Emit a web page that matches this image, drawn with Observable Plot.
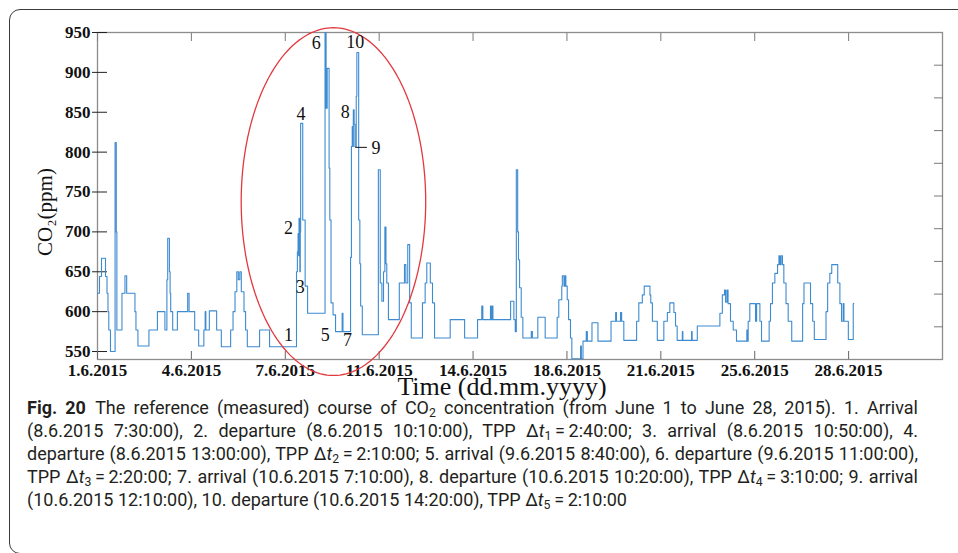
<!DOCTYPE html>
<html>
<head>
<meta charset="utf-8">
<script src="https://cdn.jsdelivr.net/npm/d3@7"></script>
<script src="https://cdn.jsdelivr.net/npm/@observablehq/plot@0.6"></script>
<style>
  html, body { margin: 0; padding: 0; background: #fff; }
  #fig { position: relative; width: 958px; height: 553px; overflow: hidden; background: #fff; }
  #box { position: absolute; left: 9px; top: 9px; width: 1000px; height: 543px;
         border: 1.5px solid #3a3a3a; border-radius: 11px; }
  #chart { position: absolute; left: 0; top: 0; }
  #caption { position: absolute; left: 27px; top: 396px; font-family: Roboto, sans-serif;
             font-size: 18px; line-height: 23.1px; color: #231f20; white-space: nowrap; }
  #caption .j { width: 891px; text-align: justify; text-align-last: justify; }
  #caption sub { font-size: 0.68em; line-height: 0; vertical-align: -0.28em; }
</style>
</head>
<body>
<div id="fig">
  <div id="box"></div>
  <div id="chart"></div>
  <div id="caption">
    <div class="j"><b>Fig. 20</b>&ensp;The reference (measured) course of CO<sub>2</sub> concentration (from June 1 to June 28, 2015). 1. Arrival</div>
    <div class="j">(8.6.2015 7:30:00), 2. departure (8.6.2015 10:10:00), TPP Δ<i>t</i><sub>1</sub>&thinsp;=&thinsp;2:40:00; 3. arrival (8.6.2015 10:50:00), 4.</div>
    <div class="j">departure (8.6.2015 13:00:00), TPP Δ<i>t</i><sub>2</sub>&thinsp;=&thinsp;2:10:00; 5. arrival (9.6.2015 8:40:00), 6. departure (9.6.2015 11:00:00),</div>
    <div class="j">TPP Δ<i>t</i><sub>3</sub>&thinsp;=&thinsp;2:20:00; 7. arrival (10.6.2015 7:10:00), 8. departure (10.6.2015 10:20:00), TPP Δ<i>t</i><sub>4</sub>&thinsp;=&thinsp;3:10:00; 9. arrival</div>
    <div>(10.6.2015 12:10:00), 10. departure (10.6.2015 14:20:00), TPP Δ<i>t</i><sub>5</sub>&thinsp;=&thinsp;2:10:00</div>
  </div>
</div>
<script>
// Measured CO2 course, June 2015: day of month (fractional) and concentration in ppm.
// Each point starts a new level of the stepped record.
const day = [
  1.000, 1.073, 1.147, 1.294, 1.349, 1.385, 1.415, 1.477, 1.646, 1.690, 1.712, 1.899, 2.009, 2.072,
  2.376, 2.413, 2.486, 2.890, 3.202, 3.477, 3.550, 3.580, 3.642, 3.668, 3.690, 3.763, 3.936, 4.314,
  4.365, 4.571, 4.717, 4.908, 4.956, 4.982, 5.110, 5.378, 5.550, 5.892, 5.980, 6.053, 6.119, 6.174,
  6.229, 6.284, 6.383, 6.442, 6.505, 6.956, 7.323,
  8.3125, 8.345, 8.370, 8.390, 8.405, 8.4236, 8.435, 8.4514, 8.465, 8.5417, 8.630, 8.720,
  9.3611, 9.400, 9.440, 9.510, 9.537, 9.581, 9.655, 9.747, 9.990, 10.020,
  10.2986, 10.330, 10.360, 10.380, 10.400, 10.4306, 10.460, 10.5069, 10.530, 10.5972, 10.640, 10.670, 10.730,
  11.320, 11.390, 11.450, 11.510, 11.560, 11.600, 11.630, 11.690, 12.090, 12.280, 12.330, 12.400,
  12.470, 12.530, 12.940, 13.040, 13.100, 13.230, 13.310, 13.385, 13.960, 14.490, 14.965, 15.120,
  15.160, 15.440, 15.470, 15.500, 15.530, 16.180, 16.300, 16.350, 16.390, 16.440, 16.470, 16.510,
  16.570, 16.630, 16.940, 16.980, 17.180, 17.450, 17.890, 17.950, 18.060, 18.080, 18.140, 18.180,
  18.210, 18.260, 18.310, 18.380, 18.430, 18.750, 18.780, 18.840, 18.960, 19.000, 19.170, 19.390,
  19.870, 20.040, 20.070, 20.220, 20.260, 20.340, 20.810, 20.890, 21.020, 21.090, 21.300, 21.330,
  21.390, 21.570, 21.810, 21.940, 22.030, 22.180, 22.240, 22.300, 22.490, 22.510, 22.830, 22.850,
  23.040, 23.870, 23.960, 24.040, 24.080, 24.130, 24.170, 24.260, 24.360, 24.480, 24.860, 24.890,
  24.910, 24.970, 25.180, 25.220, 25.340, 25.400, 25.680, 25.730, 25.800, 25.890, 25.990, 26.040,
  26.080, 26.120, 26.170, 26.220, 26.300, 26.380, 26.510, 26.910, 26.960, 27.200, 27.280, 27.340,
  27.770, 27.830, 27.910, 27.980, 28.200, 28.280, 28.340, 28.400, 28.430, 28.590, 28.770, 28.790
];
const ppm = [
  623, 644, 667, 644, 623, 600, 577, 550, 812, 700, 577, 623, 645, 623,
  600, 577, 557, 577, 600, 577, 640, 692, 650, 623, 600, 577, 600, 623,
  600, 577, 557, 577, 600, 577, 601, 577, 556, 577, 600, 625, 650, 640,
  650, 625, 600, 577, 556, 577, 556,
  650, 675, 698, 670, 717, 690, 650, 700, 836, 715, 632, 598,
  950, 855, 905, 780, 715, 611, 596, 575, 598, 575,
  668, 807, 832, 807, 853, 835, 807, 870, 925, 715, 660, 607, 571,
  778, 636, 613, 650, 706, 660, 636, 590, 636, 659, 636, 684,
  611, 567, 611, 636, 661, 636, 611, 567, 590, 567, 590, 607,
  590, 607, 590, 607, 590, 613, 590, 575, 778, 700, 665, 630,
  593, 567, 575, 567, 593, 567, 593, 615, 632, 645, 632, 645,
  632, 615, 590, 567, 541, 557, 541, 563, 575, 563, 586, 563,
  588, 599, 588, 599, 588, 564, 588, 611, 621, 632, 621, 611,
  588, 564, 588, 599, 611, 599, 582, 564, 575, 564, 575, 564,
  582, 598, 621, 627, 612, 627, 610, 588, 577, 563, 577, 563,
  588, 610, 588, 610, 588, 563, 588, 610, 636, 648, 659, 670,
  659, 670, 659, 636, 610, 588, 563, 610, 636, 610, 588, 565,
  600, 636, 648, 659, 636, 610, 588, 610, 588, 565, 610, 610
];

// Axis ticks
const tickDays = [1, 4.45, 7.9, 11.35, 14.8, 18.25, 21.7, 25.15, 28.6];
const tickLabels = ["1.6.2015", "4.6.2015", "7.6.2015", "11.6.2015", "14.6.2015",
                    "18.6.2015", "21.6.2015", "25.6.2015", "28.6.2015"];
const ppmTicks = [550, 600, 650, 700, 750, 800, 850, 900, 950];
const rightTicks = [581, 622, 663, 704, 745, 786, 827, 868, 909];

// Numbered arrival / departure events
const eventLabel = ["1", "2", "3", "4", "5", "6", "7", "8", "9", "10"];
const eventDay   = [8.02, 8.02, 8.45, 8.475, 9.37, 9.04, 10.19, 10.10, 11.23, 10.47];
const eventPpm   = [570, 705, 630, 848, 571, 936, 564, 850, 805, 938];
const leader9 = [{day1: 10.47, day2: 10.90, ppm: 806}];

// Highlighted occupancy period (ellipse centre and radii)
const highlight = {day: 9.67, ppm: 738, rDays: 3.39, rPpm: 218};

const series = day.map((d, i) => ({day: d, ppm: ppm[i]}));
const events = eventLabel.map((t, i) => ({label: t, day: eventDay[i], ppm: eventPpm[i]}));
const ellipse = d3.range(0, 360, 2).map(a => {
  const r = a * Math.PI / 180;
  return {day: highlight.day + highlight.rDays * Math.cos(r),
          ppm: highlight.ppm + highlight.rPpm * Math.sin(r)};
});
const fmt = d => tickLabels[tickDays.indexOf(d)];

const chart = Plot.plot({
  width: 958,
  height: 405,
  marginLeft: 97,
  marginRight: 16,
  marginTop: 32,
  marginBottom: 46,
  x: {domain: [1, 32.05]},
  y: {domain: [540, 950]},
  style: {
    fontFamily: "'Liberation Serif', 'Times New Roman', serif",
    fontSize: "17px",
    color: "#111",
    background: "transparent",
    overflow: "visible"
  },
  marks: [
    Plot.frame({stroke: "#8c8c8c", strokeWidth: 1.3}),
    // tick marks: the value axis ticks cross the left edge, the others point inward
    Plot.axisY(ppmTicks, {anchor: "left", tickSize: -10, stroke: "#222", fill: "none", label: null}),
    Plot.axisY(ppmTicks, {anchor: "left", tickSize: 5, stroke: "#222", fill: "none", label: null}),
    Plot.axisY(rightTicks, {anchor: "right", tickSize: -9, stroke: "#7a7a7a", fill: "none", label: null}),
    Plot.axisX(tickDays, {anchor: "bottom", tickSize: -8, stroke: "#666", fill: "none", label: null}),
    Plot.axisX(tickDays, {anchor: "top", tickSize: -8, stroke: "#7a7a7a", fill: "none", label: null}),
    // tick labels
    Plot.axisY(ppmTicks, {anchor: "left", tickSize: 0, tickPadding: 7, fontWeight: "bold", label: null}),
    Plot.axisX(tickDays, {anchor: "bottom", tickSize: 0, tickPadding: 4, tickFormat: fmt, fontWeight: "bold", label: null}),
    // axis titles
    Plot.text(["CO₂(ppm)"], {frameAnchor: "left", textAnchor: "middle", lineAnchor: "middle",
                              dx: -52, dy: 16, rotate: -90, fontSize: 21, text: d => d}),
    Plot.text(["Time (dd.mm.yyyy)"], {frameAnchor: "bottom", textAnchor: "middle", lineAnchor: "middle",
                                       dx: -18, dy: 27, fontSize: 26, text: d => d}),
    // CO2 record
    Plot.line(series, {x: "day", y: "ppm", curve: "step-after", stroke: "#3d8bd0", strokeWidth: 1.1}),
    // highlighted period
    Plot.line(ellipse, {x: "day", y: "ppm", curve: "linear-closed", stroke: "#e2393e", strokeWidth: 1.3}),
    // event numbers
    Plot.link(leader9, {x1: "day1", x2: "day2", y1: "ppm", y2: "ppm", stroke: "#111", strokeWidth: 1}),
    Plot.text(events, {x: "day", y: "ppm", text: "label", fontSize: 18, fill: "#111"})
  ]
});

document.getElementById("chart").appendChild(chart);
</script>
</body>
</html>
